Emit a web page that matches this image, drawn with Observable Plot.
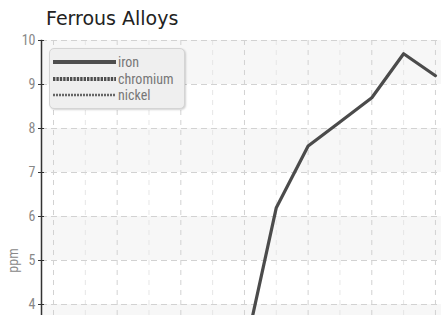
<!DOCTYPE html>
<html><head><meta charset="utf-8">
<script src="https://cdn.jsdelivr.net/npm/d3@7"></script>
<script src="https://cdn.jsdelivr.net/npm/@observablehq/plot@0.6"></script>
<style>
html,body{margin:0;padding:0;overflow:hidden;background:#fff;width:441px;height:315px}
#wrap{position:relative;width:441px;height:315px;overflow:hidden}
#title{position:absolute;left:46px;top:7px;font:19px "DejaVu Sans",sans-serif;color:#222;white-space:nowrap}
#chart{position:absolute;left:0;top:30px}
#legend{position:absolute;left:49px;top:48px;width:134px;height:59px;background:#efefef;border:1px solid #d4d4d4;border-radius:5px;box-shadow:1px 1px 2px rgba(0,0,0,0.18);font:14px "Liberation Sans Narrow","Roboto Condensed",sans-serif;color:#777}
.row{position:absolute;left:3px;height:16px;display:flex;align-items:center}
.row svg{display:block;margin-right:2px}
</style></head>
<body><div id="wrap"><div id="chart"></div><div id="title"></div><div id="legend"></div></div>
<script>
const chartTitle = "Ferrous Alloys";
const yLabel = "ppm";
const seriesNames = ["iron", "chromium", "nickel"];
const seriesWidths = [4, 4, 2.5];
const seriesColors = ["#4e4e4e", "#4e4e4e", "#666666"];
const seriesDashes = ["none", "2.4,1", "2,1"];
const xGridTicks = [0,1,2,3,4,5,6,7,8,9,10,11,12];
const yTicks = [0,1,2,3,4,5,6,7,8,9,10];
const yTickLabels = [4,5,6,7,8,9,10];
const bandLows = [9,7,5,3,1];
const ironX = [6,7,8,9,10,11,12];
const ironValues = [2.9,6.2,7.6,8.15,8.7,9.7,9.2];

document.getElementById("title").textContent = chartTitle;

const ironData = ironX.map((x, i) => ({x, y: ironValues[i]}));
const font = '"Liberation Sans Narrow","Roboto Condensed",sans-serif';

const plot = Plot.plot({
  width: 441,
  height: 480,
  marginTop: 10,
  marginBottom: 30,
  marginLeft: 41,
  marginRight: 0,
  style: {background: "transparent", fontFamily: font},
  x: {domain: [-0.377, 12.19], axis: null},
  y: {domain: [0, 10]},
  marks: [
    Plot.rect(bandLows, {y1: d => d, y2: d => d + 1, fill: "#f7f7f7"}),
    Plot.ruleX(xGridTicks.filter(d => d % 2 === 1), {x: d => d, stroke: "#e6e6e6", strokeDasharray: "5,5"}),
    Plot.ruleX(xGridTicks.filter(d => d % 2 === 0), {x: d => d, stroke: "#d2d2d2", strokeDasharray: "5,5"}),
    Plot.ruleY(yTicks, {y: d => d, stroke: "#d2d2d2", strokeDasharray: "6,4"}),
    Plot.line(ironData, {x: "x", y: "y", stroke: "#4b4b4b", strokeWidth: 3.2, strokeLinejoin: "round", clip: true}),
    Plot.frame({anchor: "left", stroke: "#333", strokeWidth: 1.5}),
    Plot.axisY({ticks: yTickLabels, tickSize: 0, tickPadding: 6, fill: "#888", fontSize: 14, fontFamily: font,
      label: yLabel, labelAnchor: "center", labelArrow: "none", labelOffset: 33}),
    Plot.axisY({ticks: yTicks, tickSize: 6, dx: 3, stroke: "#333", fill: "none", label: null, tickFormat: () => ""})
  ]
});
document.getElementById("chart").appendChild(plot);

const legend = document.getElementById("legend");
seriesNames.forEach((name, i) => {
  const row = document.createElement("div");
  row.className = "row";
  row.style.top = (5 + i * 16.5) + "px";
  row.innerHTML = `<svg width="63" height="8"><line x1="0" x2="63" y1="4" y2="4" stroke="${seriesColors[i]}" stroke-width="${seriesWidths[i]}" stroke-dasharray="${seriesDashes[i]}"/></svg><span>${name}</span>`;
  legend.appendChild(row);
});
</script></body></html>
